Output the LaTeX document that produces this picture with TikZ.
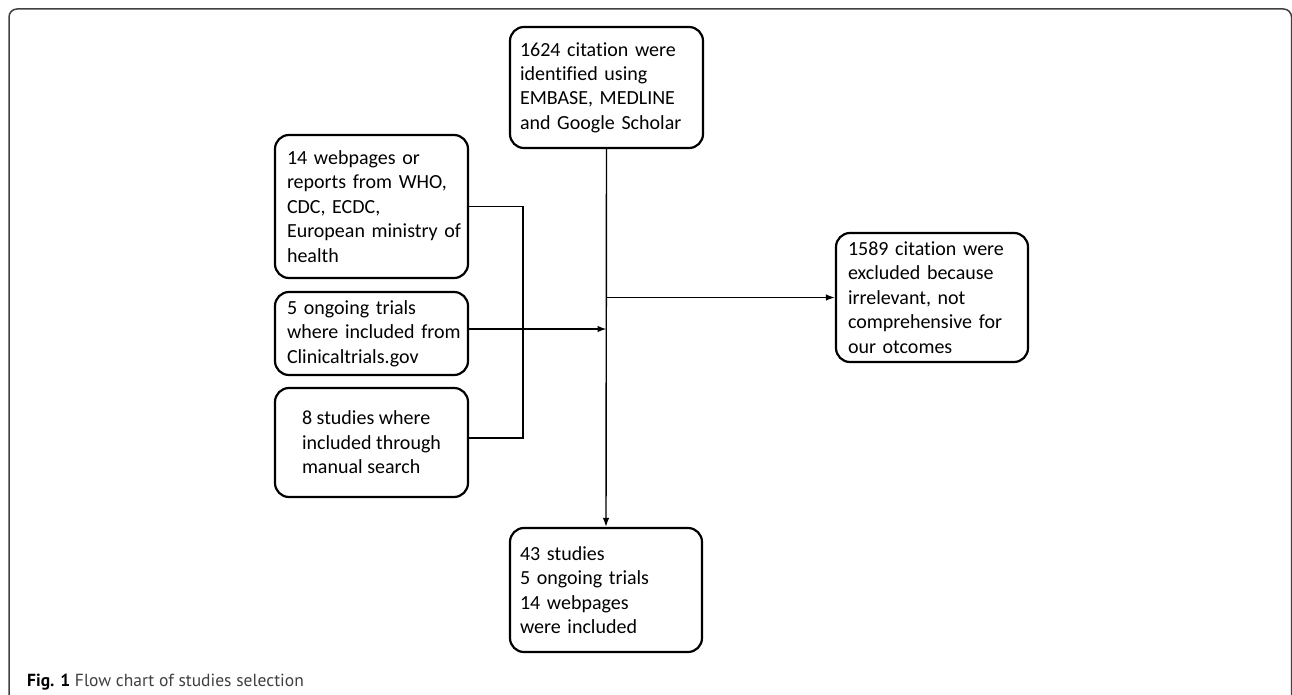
\documentclass[tikz,border=0pt]{standalone}
\usepackage{fontspec}
\setmainfont{Carlito}[Ligatures={NoCommon}]
\newfontfamily\capfont{PT Sans}
\usetikzlibrary{arrows.meta}
\begin{document}
\begin{tikzpicture}[x=1pt,y=-1pt,
  box/.style={draw, line width=2.2pt, rounded corners=14pt, align=left,
    font=\fontsize{20}{24.4}\selectfont, inner ysep=0pt},
  conn/.style={line width=1.4pt},
  arr/.style={conn, -{Latex[length=9pt,width=6.5pt]}},
  frame/.style={line width=1.5pt, black!75, rounded corners=8pt},
]
\useasboundingbox (0,0) rectangle (1292,695);

\draw[frame] (9,697) -- (9,9) -- (1291.5,9) -- (1291.5,697);

\node[box, text width=173pt, inner xsep=10pt, minimum height=121pt] (src) at (606.5,87.5)
  {1624 citation were\\identified using\\EMBASE, MEDLINE\\and Google Scholar};
\node[box, text width=169pt, inner xsep=12pt, minimum height=143pt] (web) at (371.5,206.5)
  {14 webpages or\\reports from WHO,\\CDC, ECDC,\\\mbox{European ministry of}\\health};
\node[box, text width=169pt, inner xsep=12pt, minimum height=83pt] (ong) at (371.5,333.5)
  {5 ongoing trials\\\mbox{where included from}\\Clinicaltrials.gov};
\node[box, minimum width=193pt, minimum height=109pt] (stu) at (371.5,442.5)
  {8 studies where\\included through\\manual search};
\node[box, text width=168pt, inner xsep=12pt, minimum height=129pt] (exc) at (932,297.5)
  {1589 citation were\\excluded because\\irrelevant, not\\comprehensive for\\our otcomes};
\node[box, text width=172pt, inner xsep=10pt, minimum height=124pt] (res) at (606,590)
  {43 studies\\5 ongoing trials\\14 webpages\\were included};

\coordinate (brk) at (523,438);

\draw[arr] (src.south) -- (res.north);
\draw[arr] (src.south |- exc.west) -- (exc.west);
\draw[conn] (web.east) -| (brk) -- ([yshift=4.5pt]stu.east);
\draw[arr] ([yshift=4.5pt]ong.east) -- ([yshift=4.5pt]ong.east -| src.south);

\node[anchor=base west, font=\capfont\fontsize{17.5}{20}\selectfont, inner sep=0pt, text=black!75] (cap) at (27,686)
  {\textbf{\color{black}Fig. 1} Flow chart of studies selection};
\end{tikzpicture}
\end{document}
